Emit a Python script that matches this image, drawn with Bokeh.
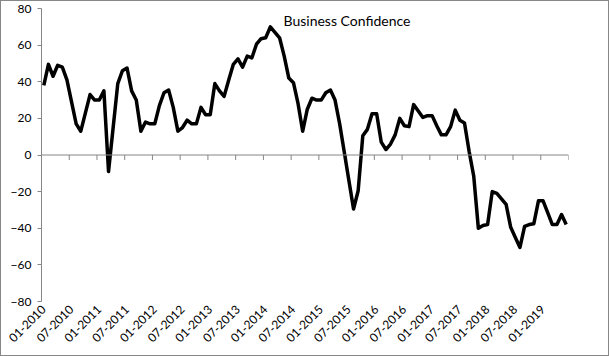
import math
from bokeh.plotting import figure
from bokeh.models import Range1d, FixedTicker, LinearAxis, Span, Label
from bokeh.embed import file_html
from bokeh.resources import INLINE

title_text = "Business Confidence"

# Monthly values, 01-2010 .. 06-2019
values = [
    38, 49.5, 43, 49, 48, 41, 29, 17, 13, 23, 33, 30,
    30, 35, -9, 15, 39, 46, 47.5, 35, 30, 13, 18, 17,
    17, 27, 34, 35.5, 26, 13, 15, 19, 17, 17, 26, 22,
    22, 39, 35, 32, 41, 49.5, 52.5, 48, 54, 53, 60.5, 63.5,
    64, 70, 67, 64, 54, 42, 39.5, 28, 13, 25, 31, 30,
    30, 34, 35.5, 30, 17, 1.5, -14, -29.5, -19.5, 10.5, 14, 22.5,
    22.5, 7, 3, 6, 11, 20, 16, 15.5, 27.5, 24, 20.5, 21.5,
    21.5, 16, 11, 11, 15.5, 24.5, 19, 17.5, 2, -11.5, -40, -38.5,
    -38, -20, -21, -24, -27, -39.5, -45, -50.5, -39, -38, -37.5, -25,
    -25, -31.5, -38, -38, -32.5, -38,
]

tick_labels = [
    "01-2010", "07-2010", "01-2011", "07-2011", "01-2012", "07-2012",
    "01-2013", "07-2013", "01-2014", "07-2014", "01-2015", "07-2015",
    "01-2016", "07-2016", "01-2017", "07-2017", "01-2018", "07-2018",
    "01-2019",
]
label_step = 6  # months between labels
y_ticks = [-80, -60, -40, -20, 0, 20, 40, 60, 80]

n = len(values)
xs = list(range(n))

AXIS = "#868686"
FONT = "Lato"

p = figure(
    frame_width=527, frame_height=293,
    x_range=Range1d(-0.5, n - 0.5), y_range=Range1d(y_ticks[0], y_ticks[-1]),
    output_backend="svg", toolbar_location=None,
    x_axis_location=None, y_axis_location=None,
    min_border_left=40, min_border_right=40, min_border_top=7, min_border_bottom=54,
)
p.background_fill_color = "white"
p.border_fill_color = "white"
p.outline_line_color = None
p.xgrid.visible = False
p.ygrid.visible = False
p.styles = {"border": "1px solid #878787"}

# Y axis
yax = LinearAxis(ticker=FixedTicker(ticks=y_ticks))
yax.axis_line_color = AXIS
yax.major_tick_line_color = AXIS
yax.major_tick_out = 4
yax.major_tick_in = 0
yax.minor_tick_line_color = None
yax.major_label_standoff = 6
yax.major_label_text_font = FONT
yax.major_label_text_font_size = "12px"
yax.major_label_text_color = "#000000"
p.add_layout(yax, "left")

# X axis labels (at bottom)
label_pos = [i * label_step for i in range(len(tick_labels))]
xax = LinearAxis(ticker=FixedTicker(ticks=label_pos))
xax.major_label_overrides = {pos: lab for pos, lab in zip(label_pos, tick_labels)}
xax.major_label_orientation = math.pi / 4
xax.axis_line_color = None
xax.major_tick_line_color = None
xax.major_tick_out = 0
xax.major_tick_in = 0
xax.minor_tick_line_color = None
xax.major_label_standoff = 6
xax.major_label_text_font = FONT
xax.major_label_text_font_size = "12px"
xax.major_label_text_color = "#000000"
p.add_layout(xax, "below")

# Category axis line at zero with boundary ticks
p.add_layout(Span(location=0, dimension="width", line_color=AXIS, line_width=1))
bounds = [i * label_step - 0.5 for i in range(len(tick_labels) + 1)]
tick_len = 5 * (y_ticks[-1] - y_ticks[0]) / 293
p.segment(x0=bounds, y0=[0] * len(bounds), x1=bounds, y1=[-tick_len] * len(bounds),
          line_color=AXIS, line_width=1)

# Series
p.line(xs, values, line_color="black", line_width=3.5, line_join="round")

# Title inside plot area
p.add_layout(Label(x=51.85, y=73.3, text=title_text, text_font=FONT,
                   text_font_size="14px", text_color="#000000",
                   text_baseline="middle", text_align="left"))

open("out.html", "w").write(file_html(p, INLINE))
